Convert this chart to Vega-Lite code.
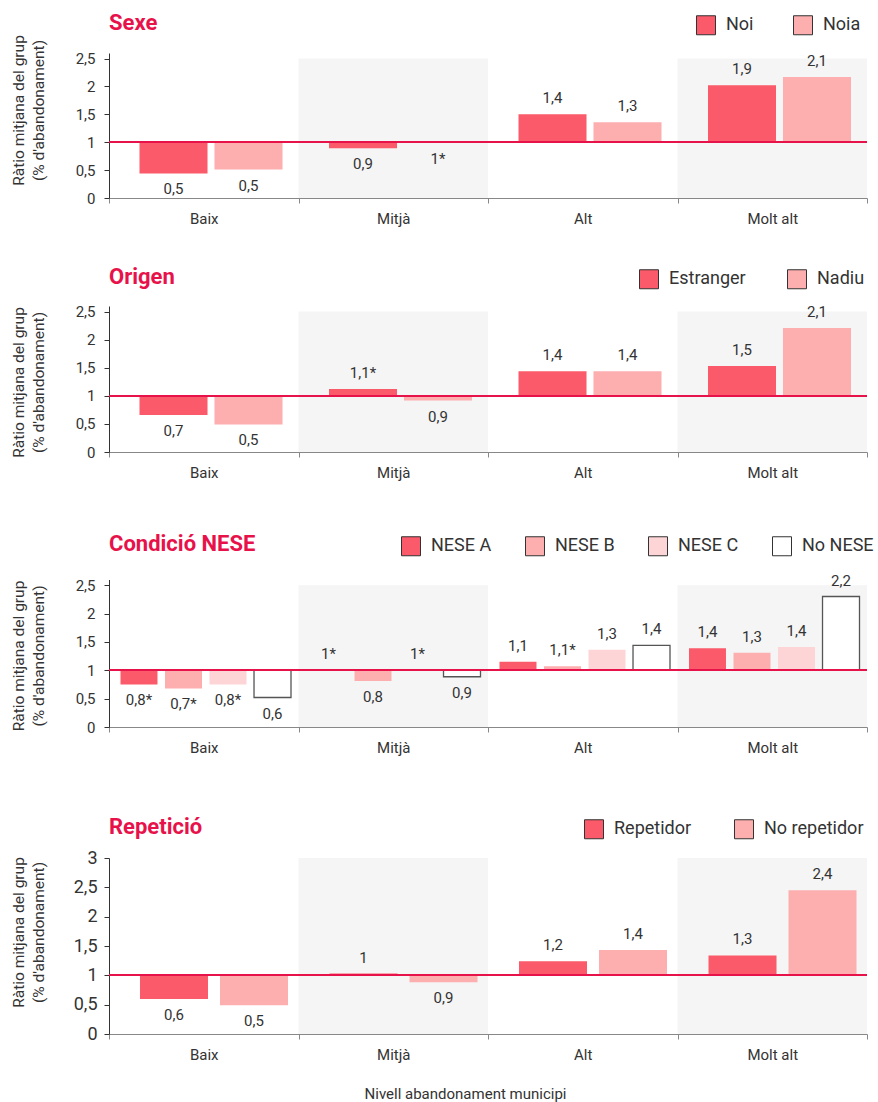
{
  "$schema": "https://vega.github.io/schema/vega-lite/v6.json",
  "background": "white",
  "padding": {"left": 11, "top": 12, "right": 5, "bottom": 2},
  "bounds": "flush",
  "spacing": 108,
  "resolve": {"scale": {"color": "independent", "xOffset": "independent", "x": "independent", "y": "independent"}, "legend": {"color": "independent"}},
  "config": {
    "font": "Roboto",
    "view": {"stroke": null},
    "axis": {"grid": false, "labelFont": "Roboto", "titleFont": "Roboto", "labelColor": "#333", "titleColor": "#333", "titleFontWeight": "normal"},
    "axisX": {"domainColor": "#888", "tickColor": "#888", "tickSize": 5, "labelFontSize": 15, "labelPadding": 8, "labelAngle": 0, "tickBand": "extent", "titleFontSize": 15},
    "axisY": {"domainColor": "#333", "tickColor": "#333", "tickSize": 5, "labelFontSize": 15, "labelPadding": 9, "titleFontSize": 15.5, "titleLineHeight": 20, "titleAngle": 270, "titleBaseline": "bottom", "titleAlign": "center", "titleX": -83, "labelOverlap": false},
    "legend": {"orient": "none", "direction": "horizontal", "symbolType": "square", "symbolSize": 361, "symbolStrokeColor": "#333", "symbolStrokeWidth": 1, "labelFontSize": 18, "labelColor": "#333", "labelFont": "Roboto", "labelOffset": 10, "padding": 0},
    "title": {"anchor": "start", "frame": "group", "offset": -20, "baseline": "alphabetic", "fontSize": 22, "fontWeight": "bold", "color": "#e8124b", "font": "Roboto"},
    "text": {"font": "Roboto", "fontSize": 15, "color": "#333"}
  },
  "vconcat": [
    {
      "width": 758,
      "height": 145,
      "title": {"text": "Sexe"},
      "data": {"values": [
        {"nivell": "Baix", "grup": "Noi", "valor": 0.44, "etiqueta": "0,5"},
        {"nivell": "Baix", "grup": "Noia", "valor": 0.51, "etiqueta": "0,5"},
        {"nivell": "Mitjà", "grup": "Noi", "valor": 0.89, "etiqueta": "0,9"},
        {"nivell": "Mitjà", "grup": "Noia", "valor": 0.99, "etiqueta": "1*"},
        {"nivell": "Alt", "grup": "Noi", "valor": 1.5, "etiqueta": "1,4"},
        {"nivell": "Alt", "grup": "Noia", "valor": 1.36, "etiqueta": "1,3"},
        {"nivell": "Molt alt", "grup": "Noi", "valor": 2.02, "etiqueta": "1,9"},
        {"nivell": "Molt alt", "grup": "Noia", "valor": 2.17, "etiqueta": "2,1"}
      ]},
      "layer": [
        {
          "data": {"values": [{"nivell": "Mitjà"}, {"nivell": "Molt alt"}]},
          "mark": {"type": "bar", "color": "#f5f5f5"},
          "encoding": {
            "x": {"field": "nivell", "type": "nominal", "scale": {"domain": ["Baix", "Mitjà", "Alt", "Molt alt"], "paddingInner": 0, "paddingOuter": 0}, "axis": {"title": null}},
            "y": {"datum": 2.5, "type": "quantitative", "scale": {"domain": [0, 2.5]}, "axis": {"title": ["Ràtio mitjana del grup", "(% d'abandonament)"], "values": [0, 0.5, 1, 1.5, 2, 2.5], "tickCount": 6, "labelOverlap": false, "labelExpr": "replace(format(datum.value, '~g'), '.', ',')", "titleY": 57}},
            "y2": {"datum": 0}
          }
        },
        {
          "mark": {"type": "bar"},
          "encoding": {
            "x": {"field": "nivell", "type": "nominal", "axis": {"title": null}},
            "xOffset": {"field": "grup", "type": "nominal", "scale": {"domain": ["Noi", "Noia"], "range": [30.5, 173.5], "paddingInner": 0.093, "paddingOuter": 0}},
            "y": {"field": "valor", "type": "quantitative", "axis": {"title": ["Ràtio mitjana del grup", "(% d'abandonament)"], "values": [0, 0.5, 1, 1.5, 2, 2.5], "tickCount": 6, "labelOverlap": false, "labelExpr": "replace(format(datum.value, '~g'), '.', ',')", "titleY": 57}},
            "y2": {"datum": 1},
            "color": {"field": "grup", "type": "nominal", "scale": {"domain": ["Noi", "Noia"], "range": ["#fa5a69", "#fdaeaf"]}, "legend": {"title": null, "legendX": 587, "legendY": -38, "columns": 2, "columnPadding": 37}}
          }
        },
        {"mark": {"type": "rule", "color": "#e8124b", "strokeWidth": 1.5}, "encoding": {"y": {"datum": 1, "type": "quantitative"}}},
        {
          "transform": [{"filter": "datum.valor >= 1"}],
          "mark": {"type": "text", "baseline": "alphabetic", "dy": -11},
          "encoding": {"x": {"field": "nivell", "type": "nominal"}, "xOffset": {"field": "grup", "type": "nominal"}, "y": {"field": "valor", "type": "quantitative"}, "text": {"field": "etiqueta"}}
        },
        {
          "transform": [{"filter": "datum.valor < 1"}],
          "mark": {"type": "text", "baseline": "alphabetic", "dy": 21},
          "encoding": {"x": {"field": "nivell", "type": "nominal"}, "xOffset": {"field": "grup", "type": "nominal"}, "y": {"field": "valor", "type": "quantitative"}, "text": {"field": "etiqueta"}}
        }
      ]
    },
    {
      "width": 758,
      "height": 146,
      "title": {"text": "Origen"},
      "data": {"values": [
        {"nivell": "Baix", "grup": "Estranger", "valor": 0.66, "etiqueta": "0,7"},
        {"nivell": "Baix", "grup": "Nadiu", "valor": 0.49, "etiqueta": "0,5"},
        {"nivell": "Mitjà", "grup": "Estranger", "valor": 1.12, "etiqueta": "1,1*"},
        {"nivell": "Mitjà", "grup": "Nadiu", "valor": 0.915, "etiqueta": "0,9"},
        {"nivell": "Alt", "grup": "Estranger", "valor": 1.44, "etiqueta": "1,4"},
        {"nivell": "Alt", "grup": "Nadiu", "valor": 1.44, "etiqueta": "1,4"},
        {"nivell": "Molt alt", "grup": "Estranger", "valor": 1.53, "etiqueta": "1,5"},
        {"nivell": "Molt alt", "grup": "Nadiu", "valor": 2.21, "etiqueta": "2,1"}
      ]},
      "layer": [
        {
          "data": {"values": [{"nivell": "Mitjà"}, {"nivell": "Molt alt"}]},
          "mark": {"type": "bar", "color": "#f5f5f5"},
          "encoding": {
            "x": {"field": "nivell", "type": "nominal", "scale": {"domain": ["Baix", "Mitjà", "Alt", "Molt alt"], "paddingInner": 0, "paddingOuter": 0}, "axis": {"title": null}},
            "y": {"datum": 2.5, "type": "quantitative", "scale": {"domain": [0, 2.5]}, "axis": {"title": ["Ràtio mitjana del grup", "(% d'abandonament)"], "values": [0, 0.5, 1, 1.5, 2, 2.5], "tickCount": 6, "labelOverlap": false, "labelExpr": "replace(format(datum.value, '~g'), '.', ',')", "titleY": 76}},
            "y2": {"datum": 0}
          }
        },
        {
          "mark": {"type": "bar"},
          "encoding": {
            "x": {"field": "nivell", "type": "nominal", "axis": {"title": null}},
            "xOffset": {"field": "grup", "type": "nominal", "scale": {"domain": ["Estranger", "Nadiu"], "range": [30.5, 173.5], "paddingInner": 0.093, "paddingOuter": 0}},
            "y": {"field": "valor", "type": "quantitative", "axis": {"title": ["Ràtio mitjana del grup", "(% d'abandonament)"], "values": [0, 0.5, 1, 1.5, 2, 2.5], "tickCount": 6, "labelOverlap": false, "labelExpr": "replace(format(datum.value, '~g'), '.', ',')", "titleY": 76}},
            "y2": {"datum": 1},
            "color": {"field": "grup", "type": "nominal", "scale": {"domain": ["Estranger", "Nadiu"], "range": ["#fa5a69", "#fdaeaf"]}, "legend": {"title": null, "legendX": 530, "legendY": -37, "columns": 2, "columnPadding": 39}}
          }
        },
        {"mark": {"type": "rule", "color": "#e8124b", "strokeWidth": 1.5}, "encoding": {"y": {"datum": 1, "type": "quantitative"}}},
        {
          "transform": [{"filter": "datum.valor >= 1"}],
          "mark": {"type": "text", "baseline": "alphabetic", "dy": -11},
          "encoding": {"x": {"field": "nivell", "type": "nominal"}, "xOffset": {"field": "grup", "type": "nominal"}, "y": {"field": "valor", "type": "quantitative"}, "text": {"field": "etiqueta"}}
        },
        {
          "transform": [{"filter": "datum.valor < 1"}],
          "mark": {"type": "text", "baseline": "alphabetic", "dy": 21},
          "encoding": {"x": {"field": "nivell", "type": "nominal"}, "xOffset": {"field": "grup", "type": "nominal"}, "y": {"field": "valor", "type": "quantitative"}, "text": {"field": "etiqueta"}}
        }
      ]
    },
    {
      "width": 758,
      "height": 167,
      "title": {"text": "Condició NESE"},
      "data": {"values": [
        {"nivell": "Baix", "grup": "NESE A", "valor": 0.75, "etiqueta": "0,8*"},
        {"nivell": "Baix", "grup": "NESE B", "valor": 0.68, "etiqueta": "0,7*"},
        {"nivell": "Baix", "grup": "NESE C", "valor": 0.75, "etiqueta": "0,8*"},
        {"nivell": "Baix", "grup": "No NESE", "valor": 0.52, "etiqueta": "0,6"},
        {"nivell": "Mitjà", "grup": "NESE A", "valor": 1.0, "etiqueta": "1*"},
        {"nivell": "Mitjà", "grup": "NESE B", "valor": 0.81, "etiqueta": "0,8"},
        {"nivell": "Mitjà", "grup": "NESE C", "valor": 1.0, "etiqueta": "1*"},
        {"nivell": "Mitjà", "grup": "No NESE", "valor": 0.886, "etiqueta": "0,9"},
        {"nivell": "Alt", "grup": "NESE A", "valor": 1.15, "etiqueta": "1,1"},
        {"nivell": "Alt", "grup": "NESE B", "valor": 1.07, "etiqueta": "1,1*"},
        {"nivell": "Alt", "grup": "NESE C", "valor": 1.36, "etiqueta": "1,3"},
        {"nivell": "Alt", "grup": "No NESE", "valor": 1.44, "etiqueta": "1,4"},
        {"nivell": "Molt alt", "grup": "NESE A", "valor": 1.39, "etiqueta": "1,4"},
        {"nivell": "Molt alt", "grup": "NESE B", "valor": 1.31, "etiqueta": "1,3"},
        {"nivell": "Molt alt", "grup": "NESE C", "valor": 1.41, "etiqueta": "1,4"},
        {"nivell": "Molt alt", "grup": "No NESE", "valor": 2.3, "etiqueta": "2,2"}
      ]},
      "layer": [
        {
          "data": {"values": [{"nivell": "Mitjà"}, {"nivell": "Molt alt"}]},
          "mark": {"type": "bar", "color": "#f5f5f5"},
          "encoding": {
            "x": {"field": "nivell", "type": "nominal", "scale": {"domain": ["Baix", "Mitjà", "Alt", "Molt alt"], "paddingInner": 0, "paddingOuter": 0}, "axis": {"title": null}},
            "y": {"datum": 2.5, "type": "quantitative", "scale": {"domain": [0, 2.5], "range": [167, 19.5]}, "axis": {"title": ["Ràtio mitjana del grup", "(% d'abandonament)"], "values": [0, 0.5, 1, 1.5, 2, 2.5], "tickCount": 6, "labelOverlap": false, "labelExpr": "replace(format(datum.value, '~g'), '.', ',')", "titleY": 95.5}},
            "y2": {"datum": 0}
          }
        },
        {
          "mark": {"type": "bar", "strokeWidth": 1.3},
          "encoding": {
            "x": {"field": "nivell", "type": "nominal", "axis": {"title": null}},
            "xOffset": {"field": "grup", "type": "nominal", "scale": {"domain": ["NESE A", "NESE B", "NESE C", "No NESE"], "range": [11.5, 182], "paddingInner": 0.169, "paddingOuter": 0}},
            "y": {"field": "valor", "type": "quantitative", "axis": {"title": ["Ràtio mitjana del grup", "(% d'abandonament)"], "values": [0, 0.5, 1, 1.5, 2, 2.5], "tickCount": 6, "labelOverlap": false, "labelExpr": "replace(format(datum.value, '~g'), '.', ',')", "titleY": 95.5}},
            "y2": {"datum": 1},
            "stroke": {"condition": {"test": "datum.grup === 'No NESE'", "value": "#555"}, "value": null},
            "color": {"field": "grup", "type": "nominal", "scale": {"domain": ["NESE A", "NESE B", "NESE C", "No NESE"], "range": ["#fa5a69", "#fdaeaf", "#fdd5d6", "#ffffff"]}, "legend": {"title": null, "legendX": 292, "legendY": -24, "columns": 4, "columnPadding": 31}}
          }
        },
        {"mark": {"type": "rule", "color": "#e8124b", "strokeWidth": 1.5}, "encoding": {"y": {"datum": 1, "type": "quantitative"}}},
        {
          "transform": [{"filter": "datum.valor >= 1"}],
          "mark": {"type": "text", "baseline": "alphabetic", "dy": -11},
          "encoding": {"x": {"field": "nivell", "type": "nominal"}, "xOffset": {"field": "grup", "type": "nominal"}, "y": {"field": "valor", "type": "quantitative"}, "text": {"field": "etiqueta"}}
        },
        {
          "transform": [{"filter": "datum.valor < 1"}],
          "mark": {"type": "text", "baseline": "alphabetic", "dy": 21},
          "encoding": {"x": {"field": "nivell", "type": "nominal"}, "xOffset": {"field": "grup", "type": "nominal"}, "y": {"field": "valor", "type": "quantitative"}, "text": {"field": "etiqueta"}}
        }
      ]
    },
    {
      "width": 758,
      "height": 199,
      "title": {"text": "Repetició"},
      "data": {"values": [
        {"nivell": "Baix", "grup": "Repetidor", "valor": 0.595, "etiqueta": "0,6"},
        {"nivell": "Baix", "grup": "No repetidor", "valor": 0.49, "etiqueta": "0,5"},
        {"nivell": "Mitjà", "grup": "Repetidor", "valor": 1.03, "etiqueta": "1"},
        {"nivell": "Mitjà", "grup": "No repetidor", "valor": 0.88, "etiqueta": "0,9"},
        {"nivell": "Alt", "grup": "Repetidor", "valor": 1.24, "etiqueta": "1,2"},
        {"nivell": "Alt", "grup": "No repetidor", "valor": 1.43, "etiqueta": "1,4"},
        {"nivell": "Molt alt", "grup": "Repetidor", "valor": 1.34, "etiqueta": "1,3"},
        {"nivell": "Molt alt", "grup": "No repetidor", "valor": 2.45, "etiqueta": "2,4"}
      ]},
      "layer": [
        {
          "data": {"values": [{"nivell": "Mitjà"}, {"nivell": "Molt alt"}]},
          "mark": {"type": "bar", "color": "#f5f5f5"},
          "encoding": {
            "x": {"field": "nivell", "type": "nominal", "scale": {"domain": ["Baix", "Mitjà", "Alt", "Molt alt"], "paddingInner": 0, "paddingOuter": 0}, "axis": {"title": "Nivell abandonament municipi", "titleX": 356, "titleY": 64, "titleBaseline": "alphabetic", "titleAlign": "center"}},
            "y": {"datum": 3, "type": "quantitative", "scale": {"domain": [0, 3], "range": [199, 23]}, "axis": {"title": ["Ràtio mitjana del grup", "(% d'abandonament)"], "values": [0, 0.5, 1, 1.5, 2, 2.5, 3], "tickCount": 7, "labelOverlap": false, "labelExpr": "replace(format(datum.value, '~g'), '.', ',')", "titleY": 97, "labelFontSize": 18, "labelPadding": 7}},
            "y2": {"datum": 0}
          }
        },
        {
          "mark": {"type": "bar"},
          "encoding": {
            "x": {"field": "nivell", "type": "nominal", "axis": {"title": "Nivell abandonament municipi", "titleX": 356, "titleY": 64, "titleBaseline": "alphabetic", "titleAlign": "center"}},
            "xOffset": {"field": "grup", "type": "nominal", "scale": {"domain": ["Repetidor", "No repetidor"], "range": [31, 179], "paddingInner": 0.15, "paddingOuter": 0}},
            "y": {"field": "valor", "type": "quantitative", "axis": {"title": ["Ràtio mitjana del grup", "(% d'abandonament)"], "values": [0, 0.5, 1, 1.5, 2, 2.5, 3], "tickCount": 7, "labelOverlap": false, "labelExpr": "replace(format(datum.value, '~g'), '.', ',')", "titleY": 97, "labelFontSize": 18, "labelPadding": 7}},
            "y2": {"datum": 1},
            "color": {"field": "grup", "type": "nominal", "scale": {"domain": ["Repetidor", "No repetidor"], "range": ["#fa5a69", "#fdaeaf"]}, "legend": {"title": null, "legendX": 475, "legendY": -16, "columns": 2, "columnPadding": 40}}
          }
        },
        {"mark": {"type": "rule", "color": "#e8124b", "strokeWidth": 1.5}, "encoding": {"y": {"datum": 1, "type": "quantitative"}}},
        {
          "transform": [{"filter": "datum.valor >= 1"}],
          "mark": {"type": "text", "baseline": "alphabetic", "dy": -11},
          "encoding": {"x": {"field": "nivell", "type": "nominal"}, "xOffset": {"field": "grup", "type": "nominal"}, "y": {"field": "valor", "type": "quantitative"}, "text": {"field": "etiqueta"}}
        },
        {
          "transform": [{"filter": "datum.valor < 1"}],
          "mark": {"type": "text", "baseline": "alphabetic", "dy": 21},
          "encoding": {"x": {"field": "nivell", "type": "nominal"}, "xOffset": {"field": "grup", "type": "nominal"}, "y": {"field": "valor", "type": "quantitative"}, "text": {"field": "etiqueta"}}
        }
      ]
    }
  ]
}
